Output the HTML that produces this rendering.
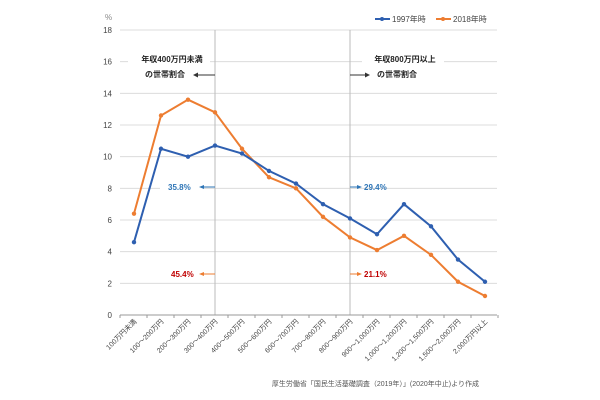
<!DOCTYPE html><html><head><meta charset="utf-8"><style>body{margin:0;background:#fff}svg{display:block;font-family:"Liberation Sans","Noto Sans CJK JP",sans-serif}</style></head><body>
<svg id="s" width="600" height="400" xmlns="http://www.w3.org/2000/svg"></svg>
<script>
const s=document.getElementById('s');let h='';
const Y=v=>315-v*15.833,X=i=>134+27*i;
for(let v=2;v<=18;v+=2)h+=`<line x1="120" x2="497" y1="${Y(v)}" y2="${Y(v)}" stroke="#dcdcdc" stroke-width="1"/>`;
for(let v=0;v<=18;v+=2)h+=`<text x="112" y="${Y(v)+3}" font-size="8" text-anchor="end" fill="#444">${v}</text>`;
h+=`<text x="105" y="20" font-size="8" fill="#888">%</text>`;
h+=`<line x1="215" x2="215" y1="30" y2="315" stroke="#bbb"/><line x1="350" x2="350" y1="30" y2="315" stroke="#bbb"/>`;
h+=`<line x1="120" x2="497" y1="315" y2="315" stroke="#999"/>`;
for(let i=0;i<=14;i++)h+=`<line x1="${120+27*i}" x2="${120+27*i}" y1="315" y2="318" stroke="#999"/>`;
const labs=["100万円未満","100～200万円","200～300万円","300～400万円","400～500万円","500～600万円","600～700万円","700～800万円","800～900万円","900～1,000万円","1,000～1,200万円","1,200～1,500万円","1,500～2,000万円","2,000万円以上"];
labs.forEach((l,i)=>h+=`<text transform="translate(${X(i)+3},${322}) rotate(-45)" font-size="7" text-anchor="end" fill="#444">${l}</text>`);
// white boxes behind annotations
h+=`<rect x="128" y="50" width="82" height="34" fill="#fff"/><rect x="362" y="50" width="82" height="34" fill="#fff"/>`;
h+=`<text x="172" y="62" font-size="8" font-weight="bold" text-anchor="middle" fill="#222">年収400万円未満</text><text x="165" y="77" font-size="8" font-weight="bold" text-anchor="middle" fill="#222">の世帯割合</text>`;
h+=`<line x1="197" x2="215" y1="75" y2="75" stroke="#333"/><polygon points="193,75 198,72.5 198,77.5" fill="#333"/>`;
h+=`<text x="405" y="62" font-size="8" font-weight="bold" text-anchor="middle" fill="#222">年収800万円以上</text><text x="397" y="77" font-size="8" font-weight="bold" text-anchor="middle" fill="#222">の世帯割合</text>`;
h+=`<line x1="350" x2="366" y1="75" y2="75" stroke="#333"/><polygon points="370,75 365,72.5 365,77.5" fill="#333"/>`;
h+=`<rect x="160" y="180" width="44" height="14" fill="#fff"/><text x="168" y="190" font-size="8" font-weight="bold" fill="#2e75b6">35.8%</text><line x1="203" x2="215" y1="187" y2="187" stroke="#2e75b6"/><polygon points="199,187 204,185 204,189" fill="#2e75b6"/>`;
h+=`<text x="171" y="277" font-size="8" font-weight="bold" fill="#c00000">45.4%</text><line x1="203" x2="215" y1="274" y2="274" stroke="#ed7d31"/><polygon points="199,274 204,272 204,276" fill="#ed7d31"/>`;
h+=`<line x1="350" x2="358" y1="187" y2="187" stroke="#2e75b6"/><polygon points="362,187 357,185 357,189" fill="#2e75b6"/><text x="364" y="190" font-size="8" font-weight="bold" fill="#2e75b6">29.4%</text>`;
h+=`<line x1="350" x2="358" y1="274" y2="274" stroke="#ed7d31"/><polygon points="362,274 357,272 357,276" fill="#ed7d31"/><text x="364" y="277" font-size="8" font-weight="bold" fill="#c00000">21.1%</text>`;
const B=[4.6,10.5,10,10.7,10.2,9.1,8.3,7.0,6.1,5.1,7.0,5.6,3.5,2.1],O=[6.4,12.6,13.6,12.8,10.5,8.7,8.0,6.2,4.9,4.1,5.0,3.8,2.1,1.2];
[[O,'#ed7d31'],[B,'#2e5fb0']].forEach(([d,c])=>{h+=`<polyline fill="none" stroke="${c}" stroke-width="2" points="${d.map((v,i)=>X(i)+','+Y(v)).join(' ')}"/>`;d.forEach((v,i)=>h+=`<circle cx="${X(i)}" cy="${Y(v)}" r="2.2" fill="${c}"/>`)});
h+=`<line x1="375" x2="390" y1="19" y2="19" stroke="#2e5fb0" stroke-width="2"/><circle cx="382" cy="19" r="2" fill="#2e5fb0"/><text x="392" y="22" font-size="8" fill="#444">1997年時</text>`;
h+=`<line x1="436" x2="451" y1="19" y2="19" stroke="#ed7d31" stroke-width="2"/><circle cx="443" cy="19" r="2" fill="#ed7d31"/><text x="453" y="22" font-size="8" fill="#444">2018年時</text>`;
h+=`<text x="479" y="386" font-size="7" text-anchor="end" fill="#555">厚生労働省「国民生活基礎調査（2019年）」(2020年中止)より作成</text>`;
s.innerHTML=h;
</script></body></html>
